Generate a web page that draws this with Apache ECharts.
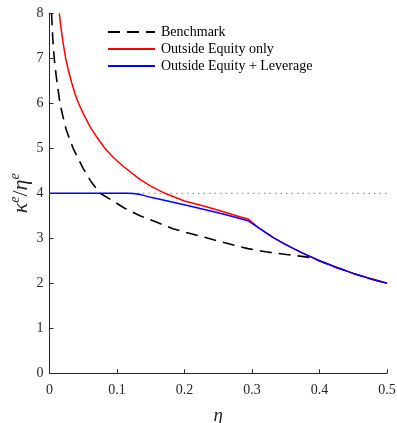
<!DOCTYPE html>
<html>
<head>
<meta charset="utf-8">
<script src="https://cdn.jsdelivr.net/npm/echarts@6/dist/echarts.min.js"></script>
<style>
  html, body { margin: 0; padding: 0; background: #fff; }
  #chart { width: 397px; height: 423px; }
</style>
</head>
<body>
<div id="chart"></div>
<script>
// values
const etaBench = [0.003, 0.005, 0.007, 0.010, 0.0155, 0.020, 0.025, 0.035, 0.050, 0.062, 0.075, 0.092, 0.110, 0.134, 0.160, 0.183, 0.210, 0.2325, 0.260, 0.294, 0.320, 0.351, 0.388, 0.393, 0.420, 0.450, 0.475, 0.500];
const bench = [8.0, 7.4, 7.0, 6.6, 6.0, 5.7, 5.4, 5.0, 4.55, 4.25, 4.0, 3.85, 3.68, 3.5, 3.35, 3.21, 3.1, 3.01, 2.9, 2.77, 2.7, 2.64, 2.57, 2.54, 2.38, 2.22, 2.1, 2.0];

const etaEquity = [0.0145, 0.017, 0.020, 0.024, 0.028, 0.033, 0.038, 0.043, 0.050, 0.060, 0.070, 0.082, 0.095, 0.110, 0.134, 0.150, 0.171, 0.200, 0.2325, 0.260, 0.282, 0.294, 0.310, 0.331, 0.350, 0.375, 0.400, 0.450, 0.500];
const equityOnly = [8.0, 7.68, 7.36, 7.0, 6.73, 6.45, 6.2, 6.0, 5.77, 5.48, 5.25, 5.0, 4.79, 4.59, 4.31, 4.16, 4.0, 3.83, 3.7, 3.58, 3.48, 3.43, 3.23, 3.02, 2.86, 2.67, 2.5, 2.22, 2.0];

const etaLev = [0, 0.05, 0.10, 0.118, 0.128, 0.138, 0.150, 0.180, 0.2075, 0.2325, 0.260, 0.282, 0.294, 0.310, 0.331, 0.350, 0.375, 0.400, 0.425, 0.450, 0.475, 0.500];
const equityLev = [4.0, 4.0, 4.0, 4.0, 3.99, 3.96, 3.91, 3.81, 3.72, 3.63, 3.53, 3.44, 3.39, 3.23, 3.02, 2.86, 2.67, 2.5, 2.35, 2.22, 2.1, 2.0];

const etaRef = [0, 0.5];
const refLine = [4, 4];

const seriesNames = ['Benchmark', 'Outside Equity only', 'Outside Equity + Leverage'];

const zip = (xs, ys) => xs.map((x, i) => [x, ys[i]]);

const serif = 'Liberation Serif';
const axisColor = '#262626';

const chart = echarts.init(document.getElementById('chart'), null, { renderer: 'canvas' });

chart.setOption({
    animation: false,
    grid: { left: 49.5, right: 10, top: 13.3, bottom: 49.7, containLabel: false, outerBoundsMode: 'none' },
    legend: {
        data: seriesNames,
        orient: 'vertical',
        left: 102,
        top: 20,
        itemWidth: 47,
        itemHeight: 8,
        itemGap: 3,
        itemStyle: { opacity: 0 },
        textStyle: { fontFamily: serif, fontSize: 14, color: '#000', padding: [0, 0, 0, 1] }
    },
    xAxis: {
        type: 'value',
        min: 0,
        max: 0.5,
        interval: 0.1,
        name: 'η',
        nameLocation: 'middle',
        nameGap: 33,
        nameMoveOverlap: false,
        nameTextStyle: { fontFamily: serif, fontStyle: 'italic', fontSize: 19, color: axisColor },
        axisLine: { lineStyle: { color: axisColor, width: 1 } },
        axisTick: { inside: true, length: 4, lineStyle: { color: axisColor } },
        axisLabel: {
            fontFamily: serif, fontSize: 14, color: axisColor, margin: 10,
            formatter: v => v === 0 ? '0' : String(Math.round(v * 10) / 10)
        },
        splitLine: { show: false }
    },
    yAxis: {
        type: 'value',
        min: 0,
        max: 8,
        interval: 1,
        name: '{i|κ}{s|e}{n|/}{i|η}{s|e}',
        nameLocation: 'middle',
        nameGap: 17,
        nameRotate: 90,
        nameMoveOverlap: false,
        nameTextStyle: {
            color: axisColor,
            rich: {
                i: { fontFamily: serif, fontStyle: 'italic', fontSize: 22, color: axisColor, lineHeight: 24, verticalAlign: 'bottom' },
                n: { fontFamily: serif, fontSize: 22, color: axisColor, lineHeight: 24, verticalAlign: 'bottom' },
                s: { fontFamily: serif, fontStyle: 'italic', fontSize: 14, color: axisColor, lineHeight: 24, verticalAlign: 'top' }
            }
        },
        axisLine: { show: true, lineStyle: { color: axisColor, width: 1 } },
        axisTick: { show: true, inside: true, length: 4, lineStyle: { color: axisColor } },
        axisLabel: { fontFamily: serif, fontSize: 14, color: axisColor, margin: 6 },
        splitLine: { show: false }
    },
    series: [
        {
            name: 'ref',
            type: 'line',
            data: zip(etaRef, refLine),
            symbol: 'none',
            silent: true,
            lineStyle: { color: '#9a9a9a', width: 1.2, type: [1.5, 4] }
        },
        {
            name: seriesNames[0],
            type: 'line',
            data: zip(etaBench, bench),
            symbol: 'none',
            color: '#000',
            lineStyle: { color: '#000', width: 1.6, type: [12, 7] }
        },
        {
            name: seriesNames[1],
            type: 'line',
            data: zip(etaEquity, equityOnly),
            symbol: 'none',
            color: '#ff0000',
            lineStyle: { color: '#ff0000', width: 1.5 }
        },
        {
            name: seriesNames[2],
            type: 'line',
            data: zip(etaLev, equityLev),
            symbol: 'none',
            color: '#0000ff',
            lineStyle: { color: '#0000ff', width: 1.5 }
        }
    ]
});
</script>
</body>
</html>
